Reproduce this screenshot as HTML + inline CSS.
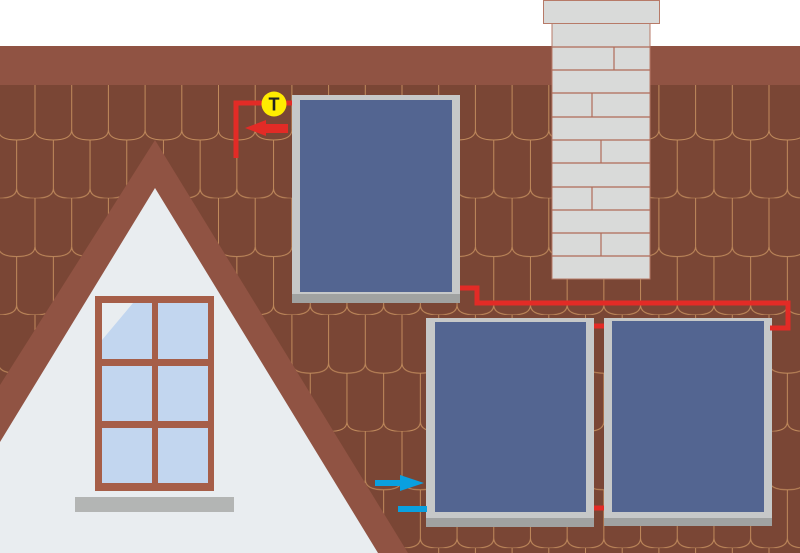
<!DOCTYPE html>
<html><head><style>html,body{margin:0;padding:0;background:#fff}svg{display:block}</style></head>
<body>
<svg width="800" height="553" viewBox="0 0 800 553" xmlns="http://www.w3.org/2000/svg">
<defs>
<pattern id="tiles" patternUnits="userSpaceOnUse" x="-1.7" y="81.7" width="36.7" height="116.6">
<rect width="36.7" height="116.6" fill="#7a4635"/>
<g fill="none" stroke="#c08a5c" stroke-width="1">
<path d="M0,0 V48 Q0,58.3 18.35,58.3 Q36.7,58.3 36.7,48"/>
<path d="M18.35,58.3 V106.6 Q18.35,116.6 36.7,116.6 M18.35,106.6 Q18.35,116.6 0,116.6"/>
<path d="M36.7,0 V48"/>
</g>
</pattern>
</defs>
<rect x="0" y="0" width="800" height="46" fill="#fff"/>
<rect x="0" y="81" width="800" height="472" fill="url(#tiles)"/>
<rect x="0" y="46" width="800" height="39" fill="#905343"/>
<!-- chimney -->
<rect x="552" y="23" width="98" height="256" fill="#d9dad9" stroke="#b77a68" stroke-width="1"/>
<rect x="543.5" y="0.5" width="116" height="23" fill="#d9dad9" stroke="#b77a68" stroke-width="1"/>
<g stroke="#b06a58" stroke-width="1.2">
<line x1="552" y1="47" x2="650" y2="47"/><line x1="552" y1="70" x2="650" y2="70"/>
<line x1="552" y1="93" x2="650" y2="93"/><line x1="552" y1="117" x2="650" y2="117"/>
<line x1="552" y1="140" x2="650" y2="140"/><line x1="552" y1="163" x2="650" y2="163"/>
<line x1="552" y1="187" x2="650" y2="187"/><line x1="552" y1="210" x2="650" y2="210"/>
<line x1="552" y1="233" x2="650" y2="233"/><line x1="552" y1="256" x2="650" y2="256"/>
<line x1="614" y1="47" x2="614" y2="70"/><line x1="592" y1="93" x2="592" y2="117"/>
<line x1="601" y1="140" x2="601" y2="163"/><line x1="592" y1="187" x2="592" y2="210"/>
<line x1="601" y1="233" x2="601" y2="256"/>
</g>
<!-- gable -->
<polygon points="155,140 408,553 0,553 0,385" fill="#905343"/>
<polygon points="155,188 378,553 0,553 0,442" fill="#e9edf0"/>
<!-- window -->
<rect x="95" y="296" width="119" height="195" fill="#a65e48"/>
<g fill="#c2d6ef">
<rect x="102" y="303" width="50" height="56"/><rect x="158" y="303" width="50" height="56"/>
<rect x="102" y="366" width="50" height="55"/><rect x="158" y="366" width="50" height="55"/>
<rect x="102" y="428" width="50" height="55"/><rect x="158" y="428" width="50" height="55"/>
</g>
<polygon points="102,303 133,303 102,340" fill="#e9edf0"/>
<rect x="75" y="497" width="159" height="15" fill="#b3b5b4"/>
<!-- panels -->
<rect x="292" y="95" width="168" height="207" fill="#c6c8c8"/>
<rect x="292" y="294" width="168" height="9" fill="#a0a2a1"/>
<rect x="300" y="100" width="152" height="192" fill="#536591"/>
<rect x="426" y="318" width="168" height="208" fill="#c6c8c8"/>
<rect x="426" y="518" width="168" height="9" fill="#a0a2a1"/>
<rect x="435" y="322" width="151" height="190" fill="#536591"/>
<rect x="604" y="318" width="168" height="208" fill="#c6c8c8"/>
<rect x="604" y="518" width="168" height="8" fill="#a0a2a1"/>
<rect x="612" y="321" width="152" height="191" fill="#536591"/>
<!-- red pipes -->
<g fill="none" stroke="#e32b26" stroke-width="5">
<polyline points="460,288 477,288 477,303 788,303 788,328 770,328"/>
<line x1="594" y1="326" x2="604" y2="326"/>
<line x1="594" y1="508" x2="604" y2="508"/>
<polyline points="236,158 236,103 292,103"/>
</g>
<polygon points="288,124 288,133 266,133 266,136 245,128 266,120 266,124" fill="#e32b26"/>
<circle cx="274" cy="104" r="12.5" fill="#ffec00"/>
<text x="274" y="110.5" font-family="Liberation Sans, sans-serif" font-size="18" font-weight="bold" text-anchor="middle" fill="#222">T</text>
<!-- blue -->
<polygon points="375,480 400,480 400,475 424,483 400,491 400,486 375,486" fill="#0aa0df"/>
<rect x="398" y="506" width="29" height="6" fill="#0aa0df"/>
</svg>
</body></html>
